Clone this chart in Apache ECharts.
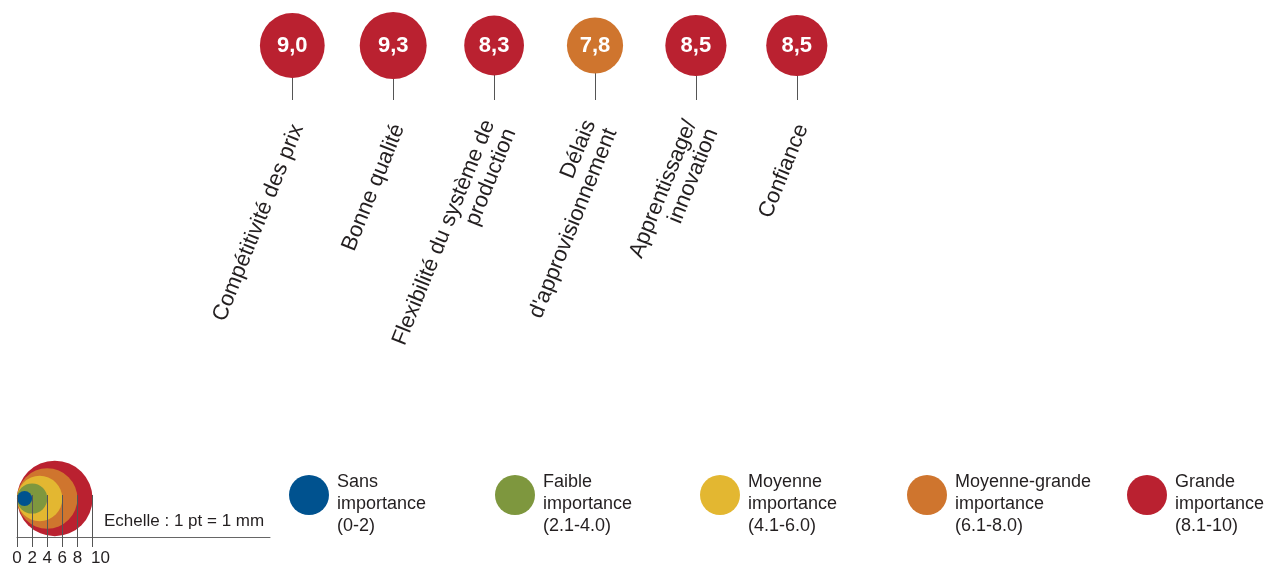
<!DOCTYPE html>
<html>
<head>
<meta charset="utf-8">
<script src="https://cdn.jsdelivr.net/npm/echarts@6/dist/echarts.min.js"></script>
<style>
  html, body { margin: 0; padding: 0; background: #fff; }
  #chart { width: 1266px; height: 565px; }
</style>
</head>
<body>
<div id="chart"></div>
<script>
// Critères d'achat et leur note d'importance (échelle 0-10)
const criteria = [
  'Compétitivité des prix',
  'Bonne qualité',
  'Flexibilité du système de\nproduction',
  'Délais\nd\'approvisionnement',
  'Apprentissage/\ninnovation',
  'Confiance'
];
const scores = [9.0, 9.3, 8.3, 7.8, 8.5, 8.5];

// Classes d'importance
const levelNames = [
  'Sans importance',
  'Faible importance',
  'Moyenne importance',
  'Moyenne-grande importance',
  'Grande importance'
];
const levelRanges = ['0-2', '2.1-4.0', '4.1-6.0', '6.1-8.0', '8.1-10'];
const levelUpper = [2, 4, 6, 8, 10];

// Échelle des cercles (1 pt = 1 mm)
const scaleValues = [10, 8, 6, 4, 2];
const scaleTicks = [0, 2, 4, 6, 8, 10];

// ---- styles & mise en page ----
const FONT = '"Liberation Sans", Arial, Helvetica, sans-serif';
const TEXT = '#231F20';
const COLORS = ['#00528F', '#7E973E', '#E3B731', '#CF752E', '#BA2130'];
const PX_PER_POINT = 7.2;          // diamètre des bulles par point de note
const BUBBLE_Y = 0.545;            // hauteur des bulles dans leur grille
const SCALE_LEFT = 17, SCALE_WIDTH = 253, SCALE_MAX = 33.5;
const SCALE_PX = SCALE_WIDTH / SCALE_MAX;
const SCALE_Y = 0.917;
const LEGEND_LEFT = [289, 495, 700, 907, 1127];

const levelOf = v => levelUpper.findIndex(u => v <= u + 1e-9);

const bubbleSeries = levelNames.map((name, li) => ({
  type: 'scatter',
  name,
  xAxisIndex: 0,
  yAxisIndex: 0,
  data: scores
    .map((v, i) => [i, BUBBLE_Y, v])
    .filter(d => levelOf(d[2]) === li),
  symbol: 'circle',
  symbolSize: d => d[2] * PX_PER_POINT,
  itemStyle: { color: COLORS[li], opacity: 1 },
  label: {
    show: true,
    position: 'inside',
    formatter: p => p.value[2].toFixed(1).replace('.', ','),
    color: '#fff',
    fontSize: 22,
    fontWeight: 'bold',
    fontStyle: 'normal',
    fontFamily: FONT
  },
  emphasis: { disabled: true },
  z: 3
}));

const scaleSeries = {
  type: 'scatter',
  name: 'Echelle',
  xAxisIndex: 1,
  yAxisIndex: 1,
  data: scaleValues.map(v => [v / 2, SCALE_Y, v]),
  symbol: 'circle',
  symbolSize: d => d[2] * SCALE_PX,
  itemStyle: { color: p => COLORS[levelOf(p.value[2])], opacity: 1 },
  emphasis: { disabled: true },
  silent: true,
  z: 2
};

const option = {
  animation: false,
  backgroundColor: '#fff',
  textStyle: { fontFamily: FONT, fontStyle: 'normal' },
  title: {
    text: 'Echelle : 1 pt = 1 mm',
    left: 104,
    top: 511,
    padding: 0,
    textStyle: { fontSize: 17, fontWeight: 'normal', color: TEXT, lineHeight: 20, fontFamily: FONT }
  },
  grid: [
    { left: 241.85, width: 605.4, top: 0, height: 100, outerBoundsMode: 'none', containLabel: false },
    { left: SCALE_LEFT, width: SCALE_WIDTH, top: 495, height: 42, outerBoundsMode: 'none', containLabel: false }
  ],
  xAxis: [
    {
      type: 'category',
      gridIndex: 0,
      data: criteria,
      position: 'bottom',
      boundaryGap: true,
      axisLine: { show: false },
      axisTick: { show: true, inside: true, alignWithLabel: true, length: 55, lineStyle: { color: '#555', width: 1 } },
      axisLabel: {
        interval: 0, rotate: 68, margin: 23,
        fontSize: 22, lineHeight: 23, color: TEXT, fontFamily: FONT, fontStyle: 'normal',
        // une courte ligne vide en tête décale le libellé un peu à droite de sa tige
        formatter: v => '{s| }\n' + v,
        rich: { s: { fontSize: 1, lineHeight: 12 } }
      },
      splitLine: { show: false }
    },
    {
      type: 'value',
      gridIndex: 1,
      min: 0, max: SCALE_MAX, interval: 2,
      position: 'bottom',
      axisLine: { show: true, lineStyle: { color: '#666', width: 1 } },
      axisTick: { show: false },
      axisLabel: {
        customValues: scaleTicks,
        margin: 13,
        fontSize: 17,
        color: TEXT,
        fontFamily: FONT,
        formatter: v => (v === 10 ? '{t|10}' : String(v)),
        rich: { t: { fontSize: 17, color: TEXT, fontFamily: FONT, padding: [0, 0, 0, 16] } }
      },
      splitLine: { show: false },
      z: 5
    },
    {
      type: 'value',
      gridIndex: 1,
      min: 0, max: SCALE_MAX, interval: 2,
      position: 'bottom',
      offset: 10,
      axisLine: { show: false },
      axisTick: { show: true, inside: true, length: 52, customValues: scaleTicks, lineStyle: { color: '#555', width: 1 } },
      axisLabel: { show: false },
      splitLine: { show: false },
      z: 5
    }
  ],
  yAxis: [
    { type: 'value', gridIndex: 0, min: 0, max: 1, show: false },
    { type: 'value', gridIndex: 1, min: 0, max: 1, show: false }
  ],
  legend: levelNames.map((name, i) => ({
    data: [name],
    left: LEGEND_LEFT[i],
    top: 453,
    padding: 0,
    orient: 'horizontal',
    icon: 'circle',
    itemWidth: 40,
    itemHeight: 40,
    selectedMode: false,
    // une ligne vide en tête décale le texte sous le centre de la pastille
    formatter: n => '{s| }\n' + n.replace(' importance', '\nimportance') + '\n(' + levelRanges[i] + ')',
    textStyle: {
      fontSize: 18, lineHeight: 22, color: TEXT, fontFamily: FONT, padding: [0, 0, 0, 3],
      rich: { s: { fontSize: 1, lineHeight: 18 } }
    }
  })),
  series: [...bubbleSeries, scaleSeries]
};

const chart = echarts.init(document.getElementById('chart'), null, { renderer: 'canvas' });
chart.setOption(option);
</script>
</body>
</html>
